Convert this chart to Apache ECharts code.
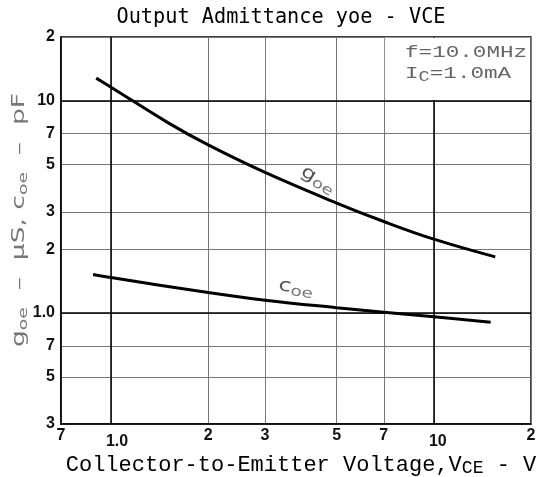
<!DOCTYPE html>
<html>
<head>
<meta charset="utf-8">
<script src="https://cdn.jsdelivr.net/npm/echarts@6/dist/echarts.min.js"></script>
<style>
  html, body { margin: 0; padding: 0; background: #fff; }
  #chart { width: 542px; height: 477px; }
</style>
</head>
<body>
<div id="chart"></div>
<script>
// ==================== data ====================
const xTicks = [0.7, 1, 2, 3, 5, 7, 10, 20]
const xTickLabels = ['7', '1.0', '2', '3', '5', '7', '10', '2']
const yTicks = [0.3, 0.5, 0.7, 1, 2, 3, 5, 7, 10, 20]
const yTickLabels = ['3', '5', '7', '1.0', '2', '3', '5', '7', '10', '2']

// goe (uS) vs VCE (V)
const goeV = [0.9, 1.0, 1.5, 2, 3, 5, 7, 10, 15.5]
const goeVal = [12.8, 11.6, 7.9, 6.2, 4.6, 3.3, 2.7, 2.23, 1.84]
// coe (pF) vs VCE (V)
const coeV = [0.88, 1.0, 2, 3, 5, 7, 10, 15]
const coeVal = [1.52, 1.47, 1.25, 1.15, 1.06, 1.01, 0.96, 0.905]

const decadeX = [1, 10]
const decadeY = [1, 10]

// ==================== helpers ====================
const labelFor = (ticks, labels) => (val) => {
  let best = 0
  ticks.forEach((t, i) => {
    if (Math.abs(Math.log10(t) - Math.log10(val)) < Math.abs(Math.log10(ticks[best]) - Math.log10(val))) best = i
  })
  return labels[best]
}
const xLabel = labelFor(xTicks, xTickLabels)
const yLabel = labelFor(yTicks, yTickLabels)

const tickFont = { color: '#111', fontFamily: 'Liberation Sans', fontWeight: 'bold', fontSize: 16 }
const gray = '#777'

const chart = echarts.init(document.getElementById('chart'))

const option = {
  backgroundColor: '#fff',
  animation: false,
  grid: {
    left: 61, top: 37, width: 470, height: 387,
    show: true, borderColor: '#000', borderWidth: 1.5,
    outerBoundsMode: 'none'
  },
  xAxis: {
    type: 'log', logBase: 10, min: 0.7, max: 20,
    axisLine: { show: true, lineStyle: { color: '#000', width: 1.5 } },
    axisTick: { show: false, customValues: xTicks },
    axisLabel: {
      customValues: xTicks, margin: 4, showMinLabel: true, showMaxLabel: true,
      ...tickFont,
      formatter: (v) => {
        const s = xLabel(v)
        if (s === '1.0') return '{a|1.0}'
        if (s === '10') return '{b|10}'
        return s
      },
      rich: {
        a: { ...tickFont, padding: [6, 0, 0, 12] },
        b: { ...tickFont, padding: [6, 0, 0, 8] }
      }
    },
    splitLine: { show: true, lineStyle: { color: gray, width: 1 } }
  },
  yAxis: {
    type: 'log', logBase: 10, min: 0.3, max: 20,
    axisLine: { show: true, lineStyle: { color: '#000', width: 1.5 } },
    axisTick: { show: false, customValues: yTicks },
    axisLabel: {
      customValues: yTicks, margin: 6, showMinLabel: true, showMaxLabel: true,
      ...tickFont,
      formatter: (v) => yLabel(v)
    },
    splitLine: { show: true, lineStyle: { color: gray, width: 1 } }
  },
  series: [
    {
      name: 'goe', type: 'line', smooth: 0.4, showSymbol: false,
      data: goeV.map((v, i) => [v, goeVal[i]]),
      lineStyle: { color: '#000', width: 3 },
      markLine: {
        symbol: 'none', silent: true, label: { show: false },
        lineStyle: { color: '#000', width: 1.5, type: 'solid' },
        data: decadeX.map(v => ({ xAxis: v })).concat(decadeY.map(v => ({ yAxis: v })))
      }
    },
    {
      name: 'coe', type: 'line', smooth: 0.4, showSymbol: false,
      data: coeV.map((v, i) => [v, coeVal[i]]),
      lineStyle: { color: '#000', width: 3 }
    }
  ]
}

chart.setOption(option)

// legend box + texts
const p0 = chart.convertToPixel({ gridIndex: 0 }, [7, 20])
const p1 = chart.convertToPixel({ gridIndex: 0 }, [20, 10])

const sub = (size, drop) => ({ fontSize: size, fontFamily: 'DejaVu Sans', fill: gray, padding: [drop, 0, 0, 0] })

chart.setOption({
  graphic: [
    {
      type: 'rect', z: 10, silent: true,
      shape: { x: p0[0] + 1, y: p0[1] + 0.8, width: p1[0] - p0[0] - 1.8, height: p1[1] - p0[1] - 1.6 },
      style: { fill: '#fff' }
    },
    {
      type: 'text', z: 11, x: 405, y: 52, scaleX: 1.33,
      style: { text: 'f=10.0MHz', font: '17px "Liberation Mono"', fill: '#666', align: 'left', verticalAlign: 'middle' }
    },
    {
      type: 'text', z: 11, x: 405, y: 73, scaleX: 1.33,
      style: {
        text: '{m|I}{s|C}{m|=1.0mA}', fill: '#666', align: 'left', verticalAlign: 'middle',
        rich: {
          m: { font: '17px "Liberation Mono"', fill: '#666' },
          s: { font: '14px "Liberation Mono"', fill: '#666', padding: [8, 0, 0, 0] }
        }
      }
    },
    // title
    {
      type: 'text', x: 281, y: 17, scaleX: 0.92,
      style: { text: 'Output Admittance yoe - VCE', font: '22px "DejaVu Sans Mono"', fill: '#000', align: 'center', verticalAlign: 'middle' }
    },
    // x axis name
    {
      type: 'text', x: 301, y: 465,
      style: {
        text: '{m|Collector-to-Emitter Voltage,V}{s|CE}{m| - V}', align: 'center', verticalAlign: 'middle',
        rich: {
          m: { font: '22px "Liberation Mono"', fill: '#000' },
          s: { font: '18px "Liberation Mono"', fill: '#000', padding: [6, 0, 0, 0] }
        }
      }
    },
    // y axis name
    {
      type: 'text', x: 20, y: 220, rotation: Math.PI / 2, scaleX: 1.56,
      style: {
        text: '{m|g}{s|oe}{m|  \u2013  \u03bcS, c}{s|oe}{m|  \u2013  pF}', align: 'center', verticalAlign: 'middle',
        rich: {
          m: { fontSize: 17, fontFamily: 'DejaVu Sans', fill: gray },
          s: sub(12, 8)
        }
      }
    },
    // curve labels
    {
      type: 'text', x: 318, y: 180, rotation: -0.55, scaleX: 1.3,
      style: {
        text: '{m|g}{s|oe}', align: 'center', verticalAlign: 'middle',
        rich: { m: { fontSize: 18, fontFamily: 'DejaVu Sans', fill: '#555' }, s: sub(14, 8) }
      }
    },
    {
      type: 'text', x: 296, y: 288, rotation: -0.17, scaleX: 1.3,
      style: {
        text: '{m|c}{s|oe}', align: 'center', verticalAlign: 'middle',
        rich: { m: { fontSize: 18, fontFamily: 'DejaVu Sans', fill: '#555' }, s: sub(14, 8) }
      }
    }
  ]
})
</script>
</body>
</html>
